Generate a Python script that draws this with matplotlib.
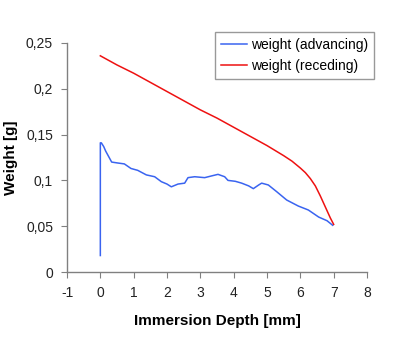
import matplotlib
matplotlib.use("Agg")
import matplotlib.pyplot as plt
from matplotlib.ticker import FuncFormatter

plt.rcParams['font.family'] = ['Liberation Sans', 'DejaVu Sans']
plt.rcParams['axes.unicode_minus'] = False

# weight (advancing)
adv_x = [0, 0, 0.03, 0.1, 0.16, 0.22, 0.34, 0.52, 0.72, 0.92, 1.12, 1.38, 1.63, 1.83,
         2.0, 2.13, 2.33, 2.53, 2.63, 2.83, 3.13, 3.35, 3.53, 3.73, 3.83, 4.05, 4.24,
         4.45, 4.59, 4.75, 4.84, 5.04, 5.29, 5.59, 5.94, 6.24, 6.55, 6.80, 6.97]
adv_y = [0.018, 0.141, 0.141, 0.137, 0.132, 0.128, 0.120, 0.119, 0.118, 0.113,
         0.111, 0.106, 0.104, 0.0986, 0.096, 0.093, 0.096, 0.097, 0.103, 0.104,
         0.103, 0.105, 0.1066, 0.104, 0.100, 0.099, 0.097, 0.094, 0.091, 0.095,
         0.097, 0.095, 0.0877, 0.0786, 0.072, 0.0677, 0.060, 0.056, 0.051]

# weight (receding)
rec_x = [0, 0.5, 1, 1.5, 2, 2.5, 3, 3.5, 4, 4.5, 5, 5.5, 5.75, 6, 6.15, 6.3,
         6.45, 6.6, 6.75, 6.9, 7]
rec_y = [0.236, 0.226, 0.217, 0.207, 0.197, 0.187, 0.177, 0.168, 0.158, 0.148,
         0.138, 0.127, 0.121, 0.1135, 0.1085, 0.102, 0.094, 0.083, 0.071, 0.059,
         0.052]

x_ticks = [-1, 0, 1, 2, 3, 4, 5, 6, 7, 8]
y_ticks = [0, 0.05, 0.1, 0.15, 0.2, 0.25]

fig = plt.figure(figsize=(4, 3.59), dpi=100)
ax = fig.add_axes([0.1675, 0.2423, 0.75, 0.638])

ax.plot(adv_x, adv_y, color='#3a64f0', lw=1.1, label='weight (advancing)')
ax.plot(rec_x, rec_y, color='#ee1111', lw=1.1, label='weight (receding)')

ax.set_xlim(-1, 8)
ax.set_ylim(0, 0.25)
ax.set_xticks(x_ticks)
ax.set_yticks(y_ticks)
ax.yaxis.set_major_formatter(FuncFormatter(lambda v, p: ('%g' % round(v, 3)).replace('.', ',')))

for s in ['top', 'right']:
    ax.spines[s].set_visible(False)
for s in ['left', 'bottom']:
    ax.spines[s].set_color('#808080')
    ax.spines[s].set_linewidth(1)
ax.tick_params(direction='out', length=4, color='#808080', labelsize=10,
               labelcolor='#222222', pad=6)

ax.set_xlabel('Immersion Depth [mm]', fontsize=11, fontweight='bold', labelpad=10)
ax.set_ylabel('Weight [g]', fontsize=11, fontweight='bold', labelpad=6)

leg = fig.legend(loc='upper left', bbox_to_anchor=(0.537, 0.912), fontsize=10,
                 frameon=True, fancybox=False, handlelength=1.9, borderpad=0.45,
                 labelspacing=0.5, handletextpad=0.25, borderaxespad=0)
leg.get_frame().set_edgecolor('#808080')
leg.get_frame().set_linewidth(1)

fig.savefig('out.png', dpi=100)
